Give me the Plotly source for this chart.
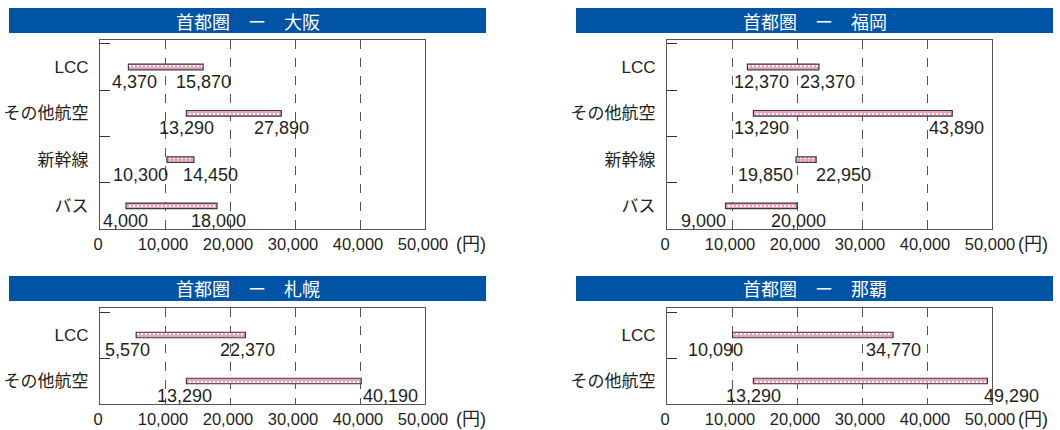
import plotly.graph_objects as go

W, H = 1060, 430

# ---------------- data ----------------
titles = ["首都圏　ー　大阪", "首都圏　ー　福岡", "首都圏　ー　札幌", "首都圏　ー　那覇"]

cats_4 = ["LCC", "その他航空", "新幹線", "バス"]
cats_2 = ["LCC", "その他航空"]

osaka_low = [4370, 13290, 10300, 4000]
osaka_high = [15870, 27890, 14450, 18000]

fukuoka_low = [12370, 13290, 19850, 9000]
fukuoka_high = [23370, 43890, 22950, 20000]

sapporo_low = [5570, 13290]
sapporo_high = [22370, 40190]

naha_low = [10090, 13290]
naha_high = [34770, 49290]

x_tickvals = [0, 10000, 20000, 30000, 40000, 50000]
x_ticktext = ["0", "10,000", "20,000", "30,000", "40,000", "50,000"]
unit_label = "(円)"

# ---------------- layout helpers (pixel geometry) ----------------
panels = [
    dict(cats=cats_4, low=osaka_low, high=osaka_high, title=titles[0],
         px=(100, 425), py=(40, 229), bar=(9, 486, 8, 33), unit_x=454,
         lshift=[6, 0, -26, -1], hshift=[0, 0, 17, 1]),
    dict(cats=cats_4, low=fukuoka_low, high=fukuoka_high, title=titles[1],
         px=(667, 992), py=(40, 229), bar=(576, 1053, 8, 33), unit_x=1016,
         lshift=[14, 8, -31, -22], hshift=[9, 4, 27, 1]),
    dict(cats=cats_2, low=sapporo_low, high=sapporo_high, title=titles[2],
         px=(100, 425), py=(308, 404), bar=(9, 486, 276, 301), unit_x=454,
         lshift=[-9, -2], hshift=[2, 29]),
    dict(cats=cats_2, low=naha_low, high=naha_high, title=titles[3],
         px=(667, 992), py=(308, 404), bar=(576, 1053, 276, 301), unit_x=1016,
         lshift=[-17, 0], hshift=[0, 24]),
]

FONT = "Liberation Sans, Arial, Noto Sans CJK JP, sans-serif"
TXT = "#231f20"
BLUE = "#0054A6"
PINK = "#F09AB8"

fig = go.Figure()
shapes = []
annotations = []


def fx(px):
    return px / W


def fy(py):
    return 1 - py / H


layout_axes = {}
for i, p in enumerate(panels, start=1):
    xa = "x" if i == 1 else f"x{i}"
    ya = "y" if i == 1 else f"y{i}"
    xkey = "xaxis" if i == 1 else f"xaxis{i}"
    ykey = "yaxis" if i == 1 else f"yaxis{i}"

    widths = [h - l for l, h in zip(p["low"], p["high"])]
    fig.add_trace(go.Bar(
        y=p["cats"], x=widths, base=p["low"], orientation="h",
        xaxis=xa, yaxis=ya, width=0.12,
        marker=dict(
            color=PINK,
            line=dict(color="#3a3a3a", width=1.2),
            pattern=dict(shape=".", fgcolor="white", bgcolor=PINK,
                         size=4, solidity=0.3, fillmode="replace"),
        ),
        hoverinfo="skip", showlegend=False,
    ))

    layout_axes[xkey] = dict(
        domain=[fx(p["px"][0]), fx(p["px"][1])], anchor=ya,
        range=[0, 50000], tickvals=x_tickvals, ticktext=x_ticktext,
        showgrid=True, gridcolor="#555555", griddash="dash", gridwidth=1,
        showline=True, linecolor="#555555", linewidth=1.2, mirror=True,
        ticks="", zeroline=False, fixedrange=True, ticklabelshift=-2,
        automargin=False,
        tickfont=dict(family=FONT, size=16.5, color=TXT),
    )
    layout_axes[ykey] = dict(
        domain=[fy(p["py"][1]), fy(p["py"][0])], anchor=xa,
        type="category", categoryorder="array", categoryarray=p["cats"],
        autorange="reversed", tickson="boundaries", ticks="inside",
        ticklen=10, tickcolor="#333333", tickwidth=1.2,
        showgrid=False, showline=True, linecolor="#555555", linewidth=1.2,
        mirror=True, zeroline=False, fixedrange=True, ticklabelstandoff=7,
        automargin=False,
        tickfont=dict(family=FONT, size=17, color=TXT),
    )

    # title bar
    x0, x1, y0, y1 = p["bar"]
    shapes.append(dict(type="rect", xref="paper", yref="paper",
                       x0=fx(x0), x1=fx(x1), y0=fy(y1), y1=fy(y0),
                       fillcolor=BLUE, line=dict(width=0), layer="below"))
    annotations.append(dict(xref="paper", yref="paper",
                            x=(fx(x0) + fx(x1)) / 2, y=(fy(y0) + fy(y1)) / 2,
                            text=p["title"], showarrow=False,
                            xanchor="center", yanchor="middle",
                            font=dict(family="Noto Sans CJK JP", size=18, color="white")))

    # value labels
    for c, lo, hi, ls, hs in zip(p["cats"], p["low"], p["high"], p["lshift"], p["hshift"]):
        for val, sh in ((lo, ls), (hi, hs)):
            annotations.append(dict(xref=xa, yref=ya, x=val, y=c,
                                    text=f"{val:,}", showarrow=False,
                                    xanchor="center", yanchor="middle",
                                    xshift=sh, yshift=-15,
                                    font=dict(family=FONT, size=18, color=TXT)))

    # unit label
    annotations.append(dict(xref="paper", yref="paper",
                            x=fx(p["unit_x"]), y=fy(p["py"][1] + 15),
                            text=unit_label, showarrow=False,
                            xanchor="left", yanchor="middle",
                            font=dict(family=FONT, size=18, color=TXT)))

fig.update_layout(
    width=W, height=H,
    margin=dict(l=0, r=0, t=0, b=0, pad=0, autoexpand=False),
    paper_bgcolor="white", plot_bgcolor="white",
    shapes=shapes, annotations=annotations, barmode="overlay",
    **layout_axes,
)

clip_js = (
    "var gd=document.getElementById('{plot_id}');"
    "gd.style.overflow='hidden';"
    "document.documentElement.style.overflow='hidden';"
    "document.body.style.margin='0';"
    "document.body.style.overflow='hidden';"
)

fig.write_html(
    "out.html",
    config={"responsive": False, "displayModeBar": False},
    post_script=clip_js,
)
